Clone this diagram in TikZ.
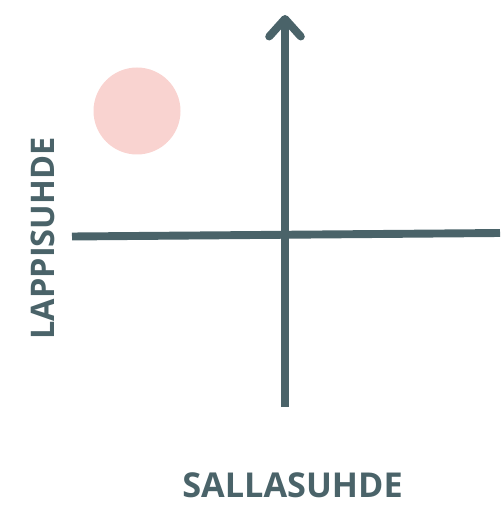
\documentclass[tikz,border=0pt]{standalone}
\usepackage{fontspec}
\setmainfont{Open Sans}
\usetikzlibrary{arrows.meta}
\definecolor{axisgrey}{RGB}{74,99,105}
\definecolor{softpink}{RGB}{249,211,208}
\begin{document}
\begin{tikzpicture}[x=0.02cm,y=-0.02cm]
\useasboundingbox (0,0) rectangle (500,506);
\fill[softpink] (137,111) circle (43.5);

\coordinate (xleft) at (72,236.5);
\coordinate (xright) at (500,233);
\coordinate (ybottom) at (285,407);
\coordinate (ytop) at (285,15);
\draw[axisgrey, line width=4.5pt] (xleft) -- (xright);
\draw[axisgrey, line width=4.5pt, -{Straight Barb[round, length=10pt, width=18pt]}] (ybottom) -- (ytop);

\node[axisgrey, inner sep=0pt, text depth=0pt, font=\fontsize{19.5}{22}\selectfont\bfseries, anchor=base] (xlabel) at (292.5,497) {SALLASUHDE};
\node[axisgrey, inner sep=0pt, text depth=0pt, font=\fontsize{18.5}{21}\selectfont\bfseries, rotate=90, anchor=base] (ylabel) at (54,238.5) {LAPPISUHDE};
\end{tikzpicture}
\end{document}
